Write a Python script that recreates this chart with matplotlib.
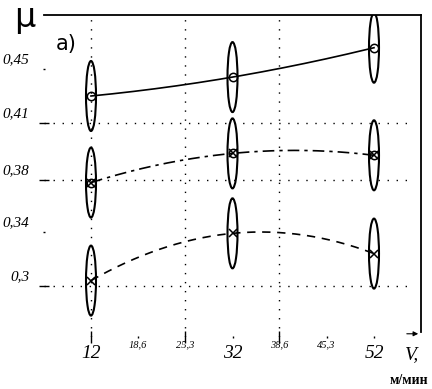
import matplotlib
matplotlib.use("Agg")

import matplotlib.pyplot as plt
import numpy as np
from matplotlib.patches import Ellipse
from matplotlib.transforms import ScaledTranslation

# cutting speed V, m/min
speed = [12, 32, 52]

# friction coefficient mu for the three series
mu_top = [0.430, 0.444, 0.465]
mu_mid = [0.378, 0.394, 0.393]
mu_bot = [0.304, 0.339, 0.324]

x_ticks = [12, 18.6, 25.3, 32, 38.6, 45.3, 52]
x_labels = ["12", "18,6", "25,3", "32", "38,6", "45,3", "52"]
y_ticks = [0.30, 0.34, 0.38, 0.41, 0.45]
y_labels = ["0,3", "0,34", "0,38", "0,41", "0,45"]

# the original y axis is not evenly spaced: tick value -> pixel row
scale_mu = [0.25, 0.30, 0.34, 0.38, 0.41, 0.45, 0.50]
scale_px = [353.5, 286, 232, 180, 123, 69, -2]


def fwd(m):
    return -np.interp(m, scale_mu, scale_px)


def inv(t):
    return np.interp(-np.asarray(t), scale_px[::-1], scale_mu[::-1])


W, H = 432, 389
fig = plt.figure(figsize=(W / 100, H / 100), dpi=100)
ax = fig.add_axes([44 / W, 1 - 337 / H, (421 - 44) / W, (337 - 15) / H])
ax.set_yscale("function", functions=(fwd, inv))
ax.set_xlim(12 - 47 / 7.075, 52 + 47 / 7.075)
ax.set_ylim(float(inv(-337)), float(inv(-15)))

serif = "Liberation Serif"

# dotted grid
dots = dict(color="black", lw=1.0, linestyle=(0, (1, 5.5)), zorder=1)
for m in [0.41, 0.38, 0.30]:
    ax.axhline(m, xmin=0.0, xmax=0.98, **dots)
for v in [12, 25.3, 38.6]:
    ax.axvline(v, **dots)

# quadratic trend curves (fitted in screen space of the uneven axis)
xs = np.linspace(12, 52, 200)
styles = [
    (mu_top, "-", "o"),
    (mu_mid, (0, (7, 3, 2, 3)), "o"),
    (mu_bot, (0, (5, 4)), "x"),
]
for mu, ls, mk in styles:
    coef = np.polyfit(speed, fwd(np.array(mu)), 2)
    ax.plot(xs, inv(np.polyval(coef, xs)), color="black", lw=1.2, linestyle=ls, zorder=3)
    ax.plot(speed, mu, linestyle="none", marker=mk, ms=6, mfc="none", mec="black", mew=1.1, zorder=4)
    if mu is mu_mid:
        ax.plot(speed, mu, linestyle="none", marker="x", ms=6, mec="black", mew=1.1, zorder=4)
    for x, y in zip(speed, mu):
        tr = fig.dpi_scale_trans + ScaledTranslation(x, y, ax.transData)
        ax.add_patch(Ellipse((0, 0), 0.10, 0.70, transform=tr, fill=False, ec="black", lw=1.5, zorder=5))

# frame: only top and right lines
ax.spines["left"].set_visible(False)
ax.spines["bottom"].set_visible(False)
ax.spines["top"].set_linewidth(1.3)
ax.spines["right"].set_linewidth(1.3)
ax.spines["right"].set_bounds(float(inv(-332)), float(inv(-15)))

ax.set_xticks(x_ticks)
ax.set_xticklabels(x_labels)
ax.set_yticks(y_ticks)
ax.set_yticklabels(y_labels)
ax.minorticks_off()
ax.tick_params(axis="x", direction="inout", length=9, width=1, pad=1)
ax.tick_params(axis="y", direction="inout", length=7, width=1, pad=7)

for v, tick, lab in zip(x_ticks, ax.xaxis.get_major_ticks(), ax.get_xticklabels()):
    if v not in (12, 25.3, 38.6):
        tick.tick1line.set_markersize(2)
    big = v in speed
    lab.set_fontfamily(serif)
    lab.set_fontstyle("italic")
    lab.set_fontsize(14 if big else 7.5)
    if not big:
        lab.set_transform(lab.get_transform() + ScaledTranslation(0, 0.04, fig.dpi_scale_trans))

for v, tick, lab in zip(y_ticks, ax.yaxis.get_major_ticks(), ax.get_yticklabels()):
    if v in (0.45, 0.34):
        tick.tick1line.set_markersize(1.5)
    lab.set_fontfamily(serif)
    lab.set_fontstyle("italic")
    lab.set_fontsize(11)
    lab.set_transform(lab.get_transform() + ScaledTranslation(0, 0.11, fig.dpi_scale_trans))

# small arrow at the end of the speed axis
ax.annotate("", xy=(1.0, 0.01), xytext=(0.955, 0.01), xycoords="axes fraction",
            arrowprops=dict(arrowstyle="-|>", color="black", lw=0.8, mutation_scale=7))

fig.text(25 / W, 1 - 18 / H, "μ", fontsize=24, ha="center", va="center", family="DejaVu Sans")
fig.text(66 / W, 1 - 44 / H, "а)", fontsize=15, ha="center", va="center", family="DejaVu Sans")
fig.text(412 / W, 1 - 355 / H, "V,", fontsize=14, ha="center", va="center", family=serif, style="italic")
fig.text(409 / W, 1 - 380 / H, "м/мин", fontsize=10, ha="center", va="center", family=serif, weight="bold")

fig.savefig("out.png", dpi=100)
